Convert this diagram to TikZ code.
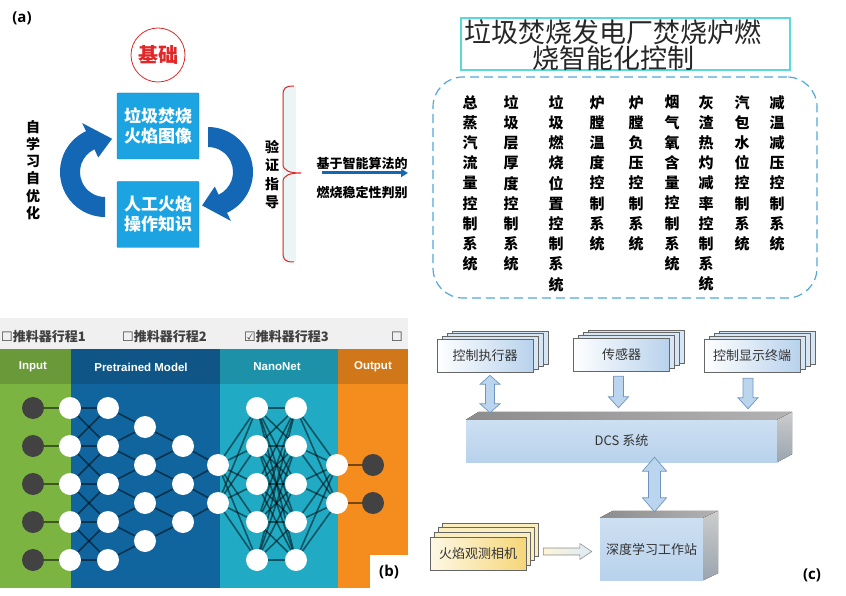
\documentclass[tikz,border=0pt]{standalone}
\usepackage{fontspec}
\setmainfont{Noto Sans CJK SC}
\newfontfamily\symfont{DejaVu Sans}
\newfontfamily\hdrfont{Liberation Sans}
\newfontfamily\labfont{Open Sans}
\XeTeXlinebreaklocale "zh"
\XeTeXlinebreakskip=0pt plus 1pt
\usetikzlibrary{calc,shadows,arrows.meta}

\newcommand{\fsz}[2]{\fontsize{#1}{#2}\selectfont}

\definecolor{basered}{RGB}{225,40,40}
\definecolor{flameblue}{RGB}{27,163,226}
\definecolor{loopblue}{RGB}{20,103,180}
\definecolor{bracefill}{RGB}{236,245,246}
\definecolor{titlecyan}{RGB}{90,216,218}
\definecolor{dashblue}{RGB}{80,168,218}
\definecolor{ingreen}{RGB}{124,180,66}
\definecolor{preblue}{RGB}{17,101,158}
\definecolor{nanoteal}{RGB}{33,170,196}
\definecolor{outorange}{RGB}{244,140,30}
\definecolor{darknode}{RGB}{66,66,66}
\definecolor{boxblue}{RGB}{184,210,236}
\definecolor{boxback}{RGB}{214,230,245}
\definecolor{camyellow}{RGB}{246,214,120}
\definecolor{camback}{RGB}{251,238,190}
\definecolor{arrowfill}{RGB}{188,213,238}
\definecolor{arrowedge}{RGB}{110,149,192}

\pgfdeclarelayer{background}
\pgfdeclarelayer{edges}
\pgfsetlayers{background,edges,main}

\tikzset{
  flamebox/.style={draw=flameblue!80!black, fill=flameblue, text=white,
    font=\fsz{17}{20}\bfseries, minimum width=82pt, minimum height=66pt,
    align=center, inner sep=0pt, rounded corners=1pt},
  vtext/.style 2 args={text width=#1pt, align=center, inner sep=0pt,
    font=\fsz{#1}{#2}\bfseries},
  column/.style={anchor=north, text width=15pt, align=center, inner sep=0pt,
    font=\fsz{15}{20.2}\bfseries},
  chk/.style={anchor=west, inner sep=0pt, text=black!75, font=\fsz{13}{13}\bfseries},
  hdr/.style={text=white, inner sep=0pt, font=\hdrfont\fsz{11.5}{12}\bfseries},
  neuron/.style={circle, fill=white, minimum size=22pt, inner sep=0pt},
  darkneuron/.style={neuron, fill=darknode},
  nnedge/.style={black, opacity=0.5, line width=1.6pt},
  panel/.style={font=\labfont\fsz{15}{15}\bfseries, inner sep=0pt},
  unitbox/.style={draw=black!60, line width=0.6pt, minimum width=96pt,
    minimum height=33pt, inner sep=0pt, text=black!80, font=\fsz{13}{13},
    left color=white, right color=boxblue,
    copy shadow={shadow xshift=15pt, shadow yshift=8pt, fill=boxback, draw=black!60},
    copy shadow={shadow xshift=10pt, shadow yshift=5.3pt, fill=boxback, draw=black!60},
    copy shadow={shadow xshift=5pt, shadow yshift=2.7pt, fill=boxback, draw=black!60}},
  cambox/.style={draw=black!60, line width=0.6pt, minimum width=96pt,
    minimum height=33pt, inner sep=0pt, text=black!80, font=\fsz{13}{13},
    left color=camback!40, right color=camyellow,
    copy shadow={shadow xshift=12pt, shadow yshift=14pt, fill=camback, draw=black!60},
    copy shadow={shadow xshift=8pt, shadow yshift=9.4pt, fill=camback, draw=black!60},
    copy shadow={shadow xshift=4pt, shadow yshift=4.7pt, fill=camback, draw=black!60}},
  slab/.style={inner sep=0pt, text=black!80, font=\fsz{13}{13},
    top color=boxblue!70, middle color=white, bottom color=boxblue},
  arrowbox/.style={draw=arrowedge, fill=arrowfill, line width=0.7pt},
  downarrow/.style n args={3}{arrowbox, to path={let \p1=(\tikztostart), \p2=(\tikztotarget) in
    (\x1-#2,\y1) -- (\x1+#2,\y1) -- (\x1+#2,\y2+#3) -- (\x1+#1,\y2+#3) -- (\x1,\y2)
    -- (\x1-#1,\y2+#3) -- (\x1-#2,\y2+#3) -- cycle}},
  updown/.style n args={3}{arrowbox, to path={let \p1=(\tikztostart), \p2=(\tikztotarget) in
    (\x1,\y1) -- (\x1+#1,\y1-#3) -- (\x1+#2,\y1-#3) -- (\x1+#2,\y2+#3) -- (\x1+#1,\y2+#3)
    -- (\x1,\y2) -- (\x1-#1,\y2+#3) -- (\x1-#2,\y2+#3) -- (\x1-#2,\y1-#3) -- (\x1-#1,\y1-#3) -- cycle}},
  rightarrow/.style={draw=black!45, line width=0.6pt, left color=camback!60, right color=arrowfill!50,
    to path={let \p1=(\tikztostart), \p2=(\tikztotarget) in
    (\x1,\y1+3.5pt) -- (\x2-12pt,\y1+3.5pt) -- (\x2-12pt,\y1+8pt) -- (\x2,\y1)
    -- (\x2-12pt,\y1-8pt) -- (\x2-12pt,\y1-3.5pt) -- (\x1,\y1-3.5pt) -- cycle}}
}

\begin{document}
\begin{tikzpicture}[x=1pt,y=-1pt]
\useasboundingbox (0,0) rectangle (846,596);

% (a) flame images and operator knowledge
\node[panel] (laba) at (22,18) {(a)};
\node[circle, draw=basered, line width=0.8pt, minimum size=54pt, inner sep=0pt,
  text=basered, font=\fsz{20}{20}\bfseries] (base) at (158,55) {基础};
\node[flamebox] (img) at (158,126) {垃圾焚烧\\火焰图像};
\node[flamebox] (know) at (158,214.5) {人工火焰\\操作知识};

\begin{scope}[shift={(105,172)}]
  \fill[loopblue] (90:25) -- (90:45) arc[start angle=90, end angle=245, radius=45]
    -- (245:54) -- (282:34) -- (245:16) -- (245:25)
    arc[start angle=245, end angle=90, radius=25] -- cycle;
\end{scope}
\begin{scope}[shift={(208,172)}]
  \fill[loopblue] (270:25) -- (270:45) arc[start angle=270, end angle=425, radius=45]
    -- (425:54) -- (460:34) -- (425:16) -- (425:25)
    arc[start angle=425, end angle=270, radius=25] -- cycle;
\end{scope}
\node[vtext={14}{17.2}] (selfopt) at (33,170) {自学习自优化};
\node[vtext={14}{18.3}] (verify) at (272,174.5) {验证指导};

\fill[bracefill] (282,86) rectangle (296,262);
\draw[basered, line width=1pt] (294,86) .. controls (285,86) and (283,88) .. (283,96)
  -- (283,164) .. controls (283,171) and (290,173) .. (301,173)
  .. controls (290,173) and (283,175) .. (283,182) -- (283,252)
  .. controls (283,260) and (285,262) .. (294,262);

\node[font=\fsz{13}{13}\bfseries, inner sep=0pt] (algo) at (362,163) {基于智能算法的};
\node[font=\fsz{13}{13}\bfseries, inner sep=0pt] (judge) at (362,193) {燃烧稳定性判别};
\coordinate (jstart) at (322,173);
\coordinate (jend) at (408,173);
\draw[loopblue, line width=3pt, -{Triangle[length=7pt,width=8pt]}] (jstart) -- (jend);

% (a) control systems
\node[draw=titlecyan, line width=2pt, minimum width=329pt, minimum height=52pt] (titleframe) at (625.5,44) {};
\node[align=center, inner sep=0pt, text=black!85, font=\fsz{27}{24}] (title) at (613,45)
  {垃圾焚烧发电厂焚烧炉燃\\烧智能化控制};
\node[draw=dashblue, line width=1.2pt, dash pattern=on 9pt off 5pt, rounded corners=30pt,
  minimum width=384pt, minimum height=221pt] (group) at (625,187.5) {};
\foreach \x/\t [count=\i] in {470/总蒸汽流量控制系统, 511/垃圾层厚度控制系统,
    556/垃圾燃烧位置控制系统, 597/炉膛温度控制系统, 636/炉膛负压控制系统,
    672/烟气氧含量控制系统, 706/灰渣热灼减率控制系统, 742/汽包水位控制系统,
    777/减温减压控制系统}
  \node[column] (sys\i) at (\x,95) {\t};

% (b) network
\begin{pgfonlayer}{background}
  \fill[gray!12] (0,318) rectangle (408,349);
  \foreach \xa/\xb/\col in {0/71/ingreen, 71/220/preblue, 220/338/nanoteal, 338/408/outorange} {
    \fill[\col] (\xa,349) rectangle (\xb,588);
    \fill[\col!85!black] (\xa,349) rectangle (\xb,384);
  }
\end{pgfonlayer}
\node[chk] (chk1) at (1,337) {{\symfont ☐}推料器行程1};
\node[chk] (chk2) at (122,337) {{\symfont ☐}推料器行程2};
\node[chk] (chk3) at (244,337) {{\symfont ☑}推料器行程3};
\node[chk] (chk4) at (391,337) {{\symfont ☐}};
\node[hdr] (hin) at (33,367) {Input};
\node[hdr] (hpre) at (141,367) {Pretrained Model};
\node[hdr] (hnano) at (277,367) {NanoNet};
\node[hdr] (hout) at (373,367) {Output};

\foreach \y [count=\i] in {408,446,484,522,560} {
  \node[darkneuron] (in\i) at (33,\y) {};
  \node[neuron] (la\i) at (70,\y) {};
  \node[neuron] (lb\i) at (108,\y) {};
  \node[neuron] (na\i) at (257,\y) {};
  \node[neuron] (nb\i) at (296,\y) {};
}
\foreach \y [count=\i] in {427,465,503,541}
  \node[neuron] (lc\i) at (145,\y) {};
\foreach \y [count=\i] in {446,484,522}
  \node[neuron] (ld\i) at (183,\y) {};
\foreach \y [count=\i] in {465,503} {
  \node[neuron] (le\i) at (218,\y) {};
  \node[neuron] (nc\i) at (337,\y) {};
  \node[darkneuron] (out\i) at (373,\y) {};
}

\begin{pgfonlayer}{edges}
  \foreach \i in {1,...,5} {
    \draw[nnedge] (in\i) -- (la\i);
    \foreach \j in {1,...,5} {
      \pgfmathtruncatemacro\d{abs(\i-\j)}
      \ifnum\d<2 \draw[nnedge] (la\i) -- (lb\j); \fi
      \draw[nnedge] (na\i) -- (nb\j);
    }
    \foreach \j in {1,2} {
      \draw[nnedge] (le\j) -- (na\i);
      \draw[nnedge] (nb\i) -- (nc\j);
    }
  }
  \foreach \i/\j in {1/1,2/1,2/2,3/2,3/3,4/3,4/4,5/4}
    \draw[nnedge] (lb\i) -- (lc\j);
  \foreach \i/\j in {1/1,2/1,2/2,3/2,3/3,4/3}
    \draw[nnedge] (lc\i) -- (ld\j);
  \foreach \i/\j in {1/1,2/1,2/2,3/2}
    \draw[nnedge] (ld\i) -- (le\j);
  \foreach \i in {1,2}
    \draw[nnedge] (nc\i) -- (out\i);
\end{pgfonlayer}
\node[fill=white, minimum width=38pt, minimum height=33pt, panel] (labb) at (389,571.5) {(b)};

% (c) DCS structure
\node[unitbox] (actuator) at (485,355.5) {控制执行器};
\node[unitbox] (sensor) at (621.5,354.5) {传感器};
\node[unitbox] (display) at (752,355.5) {控制显示终端};

\node[slab, minimum width=311pt, minimum height=42pt] (dcs) at (621.5,441) {DCS 系统};
\fill[left color=black!45, right color=black!30] (dcs.north west) -- ++(13,-8)
  -- ([shift={(15,-8)}]dcs.north east) -- (dcs.north east) -- cycle;
\fill[top color=black!20, bottom color=boxblue!60!black!70] (dcs.north east)
  -- ([shift={(15,-8)}]dcs.north east) -- ([shift={(15,-8)}]dcs.south east) -- (dcs.south east) -- cycle;

\node[slab, minimum width=103pt, minimum height=62pt] (station) at (651.5,549) {深度学习工作站};
\fill[left color=black!45, right color=black!30] (station.north west) -- ++(13,-7)
  -- ([shift={(15,-7)}]station.north east) -- (station.north east) -- cycle;
\fill[top color=black!20, bottom color=boxblue!60!black!70] (station.north east)
  -- ([shift={(15,-7)}]station.north east) -- ([shift={(15,-7)}]station.south east) -- (station.south east) -- cycle;

\node[cambox] (camera) at (478,553.5) {火焰观测相机};

\draw[updown={10pt}{4.5pt}{9pt}] ([xshift=5pt,yshift=-3pt]actuator.south) to ([yshift=7pt]actuator.south |- dcs.north);
\draw[downarrow={10pt}{5pt}{11pt}] ([xshift=-3pt,yshift=-5pt]sensor.south) to ([yshift=12pt]sensor.south |- dcs.north);
\draw[downarrow={10pt}{5pt}{11pt}] ([xshift=-4pt,yshift=-6pt]display.south) to ([yshift=11pt]display.south |- dcs.north);
\draw[updown={12pt}{6pt}{14pt}] ([xshift=3pt,yshift=5pt]station.north |- dcs.south) to ([yshift=6pt]station.north);
\draw[rightarrow] ([xshift=17pt,yshift=2pt]camera.east) to ([xshift=-8pt,yshift=2pt]station.west);

\node[panel] (labc) at (812,575) {(c)};
\end{tikzpicture}
\end{document}
